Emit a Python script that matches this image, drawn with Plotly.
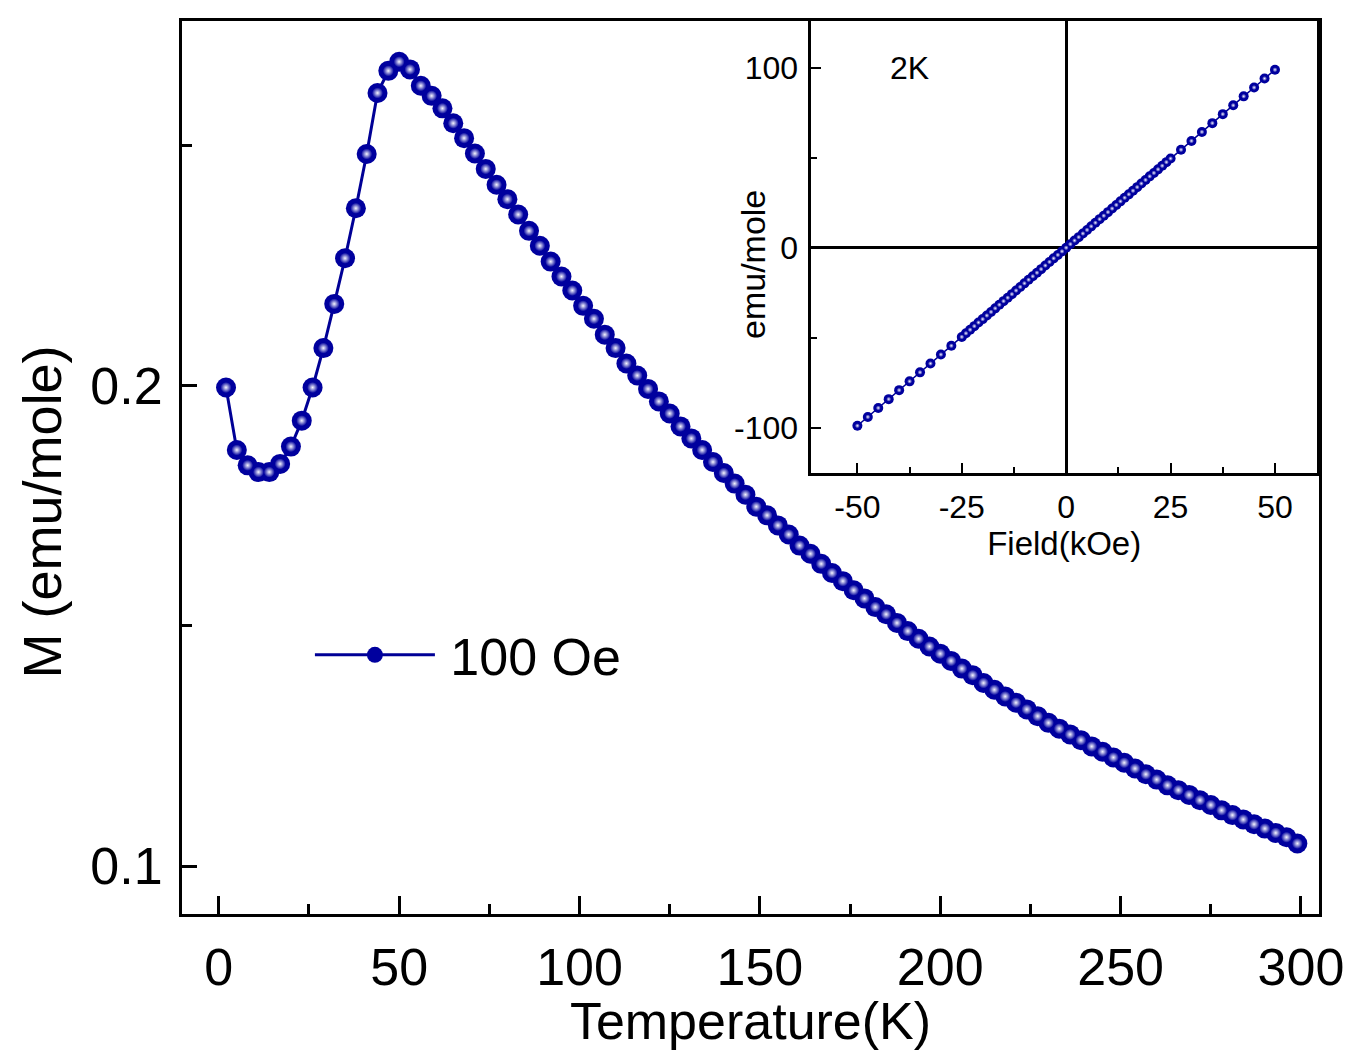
import plotly.graph_objects as go

# ---------------- data ----------------
temperature_K = [2, 5, 8, 11, 14, 17, 20, 23, 26, 29, 32, 35, 38, 41, 44, 47, 50, 53, 56, 59,
                 62, 65, 68, 71, 74, 77, 80, 83, 86, 89, 92, 95, 98, 101, 104, 107, 110, 113, 116, 119,
                 122, 125, 128, 131, 134, 137, 140, 143, 146, 149, 152, 155, 158, 161, 164, 167, 170, 173, 176, 179,
                 182, 185, 188, 191, 194, 197, 200, 203, 206, 209, 212, 215, 218, 221, 224, 227, 230, 233, 236, 239,
                 242, 245, 248, 251, 254, 257, 260, 263, 266, 269, 272, 275, 278, 281, 284, 287, 290, 293, 296, 299]

moment_M = [0.1996, 0.1866, 0.1834, 0.1820, 0.1820, 0.1837, 0.1873, 0.1927, 0.1996, 0.2078,
            0.2170, 0.2265, 0.2369, 0.2482, 0.2609, 0.2655, 0.2674, 0.2658, 0.2624, 0.2603,
            0.2577, 0.2546, 0.2515, 0.2483, 0.2451, 0.2418, 0.2388, 0.2356, 0.2322, 0.2291,
            0.2258, 0.2227, 0.2198, 0.2166, 0.2139, 0.2106, 0.2078, 0.2046, 0.2021, 0.1993,
            0.1967, 0.1942, 0.1915, 0.1890, 0.1866, 0.1841, 0.1818, 0.1796, 0.1773, 0.1748,
            0.1730, 0.1709, 0.1690, 0.1667, 0.1650, 0.1629, 0.1610, 0.1593, 0.1574, 0.1557,
            0.1539, 0.1524, 0.1506, 0.1489, 0.1473, 0.1457, 0.1442, 0.1427, 0.1411, 0.1397,
            0.1381, 0.1367, 0.1353, 0.1340, 0.1326, 0.1312, 0.1298, 0.1286, 0.1274, 0.1262,
            0.1249, 0.1238, 0.1226, 0.1215, 0.1203, 0.1191, 0.1180, 0.1168, 0.1158, 0.1148,
            0.1137, 0.1127, 0.1116, 0.1106, 0.1097, 0.1087, 0.1078, 0.1069, 0.1060, 0.1047]

field_kOe = [-50, -47.5, -45, -42.5, -40, -37.5, -35, -32.5, -30, -27.5, -25,
             -24, -23, -22, -21, -20, -19, -18, -17, -16, -15, -14, -13, -12, -11, -10,
             -9, -8, -7, -6, -5, -4, -3, -2, -1, 0, 1, 2, 3, 4, 5, 6, 7, 8, 9,
             10, 11, 12, 13, 14, 15, 16, 17, 18, 19, 20, 21, 22, 23, 24,
             25, 27.5, 30, 32.5, 35, 37.5, 40, 42.5, 45, 47.5, 50]

inset_M = [-99.0, -94.1, -89.1, -84.2, -79.2, -74.3, -69.3, -64.4, -59.4, -54.5, -49.6,
           -47.6, -45.6, -43.6, -41.6, -39.7, -37.7, -35.7, -33.7, -31.7, -29.7, -27.8, -25.8, -23.8, -21.8, -19.8,
           -17.8, -15.9, -13.9, -11.9, -9.9, -7.9, -5.9, -4.0, -2.0, 0.0, 2.0, 4.0, 5.9, 7.9, 9.9, 11.9, 13.9, 15.9, 17.8,
           19.8, 21.8, 23.8, 25.8, 27.8, 29.7, 31.7, 33.7, 35.7, 37.7, 39.7, 41.6, 43.6, 45.6, 47.6,
           49.6, 54.5, 59.4, 64.4, 69.3, 74.3, 79.2, 84.2, 89.1, 94.1, 99.0]

main_ticks_x = [0, 50, 100, 150, 200, 250, 300]
main_ticks_y = [0.1, 0.2]
main_ticks_y_text = ["0.1", "0.2"]
inset_ticks_x = [-50, -25, 0, 25, 50]
inset_ticks_x_text = ["-50", "-25", "0", "25", "50"]
inset_ticks_y = [-100, 0, 100]
inset_ticks_y_text = ["-100", "0", "100"]

# ---------------- style ----------------
NAVY = "#00009E"
LINE = "#000096"
HIGHLIGHT = "#F6F6FF"
FONT = "Liberation Sans, Arial, sans-serif"

fig = go.Figure()

# main M(T) curve
fig.add_trace(go.Scatter(
    x=temperature_K, y=moment_M, mode="lines+markers", name="\u2009100 Oe",
    line=dict(color=LINE, width=3),
    marker=dict(size=20, color=NAVY, line=dict(width=0)),
    xaxis="x", yaxis="y", showlegend=True,
))
# sphere highlights
fig.add_trace(go.Scatter(
    x=temperature_K, y=moment_M, mode="markers", showlegend=False, hoverinfo="skip",
    marker=dict(size=11, color=NAVY, line=dict(width=0),
                gradient=dict(type="radial", color=HIGHLIGHT)),
    xaxis="x", yaxis="y",
))

# inset M(H)
fig.add_trace(go.Scatter(
    x=field_kOe, y=inset_M, mode="lines+markers", name="2K",
    line=dict(color=LINE, width=1.5),
    marker=dict(size=10, color=NAVY, line=dict(width=0)),
    xaxis="x2", yaxis="y2", showlegend=False,
))
fig.add_trace(go.Scatter(
    x=field_kOe, y=inset_M, mode="markers", showlegend=False, hoverinfo="skip",
    marker=dict(size=5, color=NAVY, line=dict(width=0),
                gradient=dict(type="radial", color=HIGHLIGHT)),
    xaxis="x2", yaxis="y2",
))

axis_common = dict(showline=True, linecolor="black", mirror=True, showgrid=False,
                   ticks="inside", tickcolor="black", automargin=False)

fig.update_layout(
    width=1350, height=1050,
    margin=dict(l=182, r=31, t=21, b=136),
    paper_bgcolor="white", plot_bgcolor="white",
    font=dict(family=FONT, color="black"),
    xaxis=dict(**axis_common, zeroline=False, domain=[0, 1], range=[-10.2, 305],
               tickvals=main_ticks_x, ticklen=18, tickwidth=2.5, linewidth=3,
               tickfont=dict(size=52), ticklabelstandoff=6,
               minor=dict(dtick=25, tick0=0, ticks="inside", ticklen=10, tickwidth=2.5, tickcolor="black"),
               title=dict(text="Temperature(K)", font=dict(size=52), standoff=6)),
    yaxis=dict(**axis_common, zeroline=False, domain=[0, 1], range=[0.09002, 0.27588],
               tickvals=main_ticks_y, ticktext=main_ticks_y_text, ticklen=15, tickwidth=2.5, linewidth=3,
               tickfont=dict(size=52), ticklabelstandoff=6,
               minor=dict(dtick=0.05, tick0=0, ticks="inside", ticklen=10, tickwidth=2.5, tickcolor="black")),
    xaxis2=dict(**axis_common, domain=[0.5536, 0.9982], anchor="y2", range=[-61, 60.05],
                tickvals=inset_ticks_x, ticktext=inset_ticks_x_text, ticklen=10, tickwidth=2, linewidth=3,
                tickfont=dict(size=32), ticklabelstandoff=4,
                zeroline=True, zerolinecolor="black", zerolinewidth=3,
                minor=dict(dtick=12.5, tick0=0, ticks="inside", ticklen=6, tickwidth=2, tickcolor="black"),
                title=dict(text="Field(kOe)", font=dict(size=33), standoff=0)),
    yaxis2=dict(**axis_common, domain=[0.4944, 1.0], anchor="x2", range=[-125, 126.1],
                tickvals=inset_ticks_y, ticktext=inset_ticks_y_text, ticklen=10, tickwidth=2, linewidth=3,
                tickfont=dict(size=32), ticklabelstandoff=4,
                zeroline=True, zerolinecolor="black", zerolinewidth=3,
                minor=dict(dtick=50, tick0=0, ticks="inside", ticklen=6, tickwidth=2, tickcolor="black")),
    legend=dict(x=0.1125, y=0.29, xanchor="left", yanchor="middle",
                font=dict(size=52), bgcolor="rgba(0,0,0,0)", itemwidth=120,
                borderwidth=0),
    annotations=[
        dict(text="2K", xref="x2 domain", yref="y2 domain", x=0.194, y=0.896,
             xanchor="center", yanchor="middle",
             showarrow=False, font=dict(size=32, family=FONT)),
        dict(text="M (emu/mole)", xref="paper", yref="paper", x=-0.123, y=0.4497,
             xanchor="center", yanchor="middle", textangle=-90,
             showarrow=False, font=dict(size=54, family=FONT)),
        dict(text="emu/mole", xref="paper", yref="paper", x=(753 - 182) / 1137, y=(914 - 265) / 893,
             xanchor="center", yanchor="middle", textangle=-90,
             showarrow=False, font=dict(size=34, family=FONT)),
    ],
)

fig.write_html("out.html")
